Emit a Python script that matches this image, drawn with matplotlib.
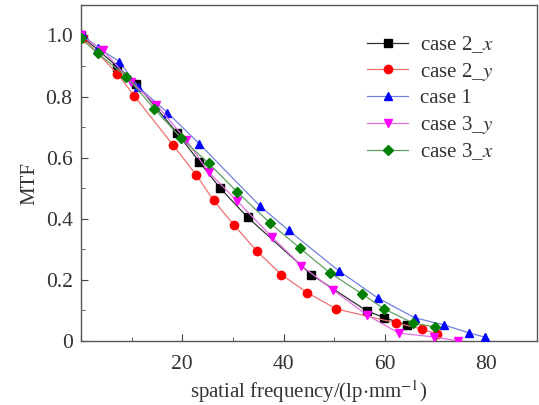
import matplotlib
matplotlib.use("Agg")
import matplotlib.pyplot as plt
from matplotlib.ticker import MultipleLocator, FuncFormatter

plt.rcParams["font.family"] = ["Liberation Serif", "DejaVu Serif"]
plt.rcParams["mathtext.fontset"] = "stix"

# ── data ─────────────────────────────────────────────────────────────────────
case2x_f = [0, 7.2, 10.9, 19.0, 23.4, 27.5, 32.9, 45.5, 56.4, 59.9, 64.3]
case2x_m = [1.0, 0.898, 0.842, 0.681, 0.586, 0.50, 0.405, 0.217, 0.099, 0.076, 0.053]

case2y_f = [0.5, 7.2, 10.5, 18.2, 22.8, 26.2, 30.3, 34.8, 39.6, 44.7, 50.4, 62.3, 67.4, 70.2]
case2y_m = [0.99, 0.875, 0.803, 0.641, 0.543, 0.46, 0.378, 0.293, 0.217, 0.158, 0.105, 0.059, 0.039, 0.023]

case1_f = [0.5, 3.4, 7.6, 11.3, 17.1, 23.4, 35.4, 41.0, 50.9, 58.6, 65.9, 71.6, 76.7, 79.7]
case1_m = [1.0, 0.96, 0.914, 0.832, 0.747, 0.645, 0.441, 0.362, 0.23, 0.141, 0.076, 0.053, 0.026, 0.013]

case3y_f = [0, 4.4, 9.9, 14.9, 20.8, 25.2, 30.9, 37.8, 43.5, 49.7, 56.4, 62.7, 69.8, 74.4]
case3y_m = [1.0, 0.951, 0.849, 0.773, 0.658, 0.553, 0.457, 0.339, 0.247, 0.168, 0.086, 0.026, 0.013, 0.0]

case3x_f = [0, 3.4, 9.0, 14.5, 19.8, 25.2, 30.9, 37.4, 43.3, 49.1, 55.4, 59.9, 65.5, 69.9]
case3x_m = [0.99, 0.941, 0.865, 0.76, 0.664, 0.582, 0.487, 0.385, 0.303, 0.224, 0.155, 0.105, 0.059, 0.046]

fig = plt.figure(figsize=(5.39, 4.05), dpi=100)
ax = fig.add_axes([0.150, 0.158, 0.846, 0.830])

series = [
    (case2x_f, case2x_m, "case 2_$x$", "s", "black", "#333333", 0),
    (case2y_f, case2y_m, "case 2_$y$", "o", "red", "#f07070", 1),
    (case1_f, case1_m, "case 1", "^", "blue", "#7080e0", 2),
    (case3y_f, case3y_m, "case 3_$y$", "v", "magenta", "#e070e0", 3),
    (case3x_f, case3x_m, "case 3_$x$", "D", "green", "#60a060", 4),
]
for f, m, lab, mk, mc, lc, z in series:
    ms = 5 if mk == "D" else 6
    ax.plot(f, m, color=lc, lw=0.9, marker=mk, ms=ms, mfc=mc, mec=mc,
            label=lab, zorder=3 + z)

ax.set_xlim(0, 90)
ax.set_ylim(0, 1.1)
ax.xaxis.set_major_locator(MultipleLocator(20))
ax.xaxis.set_minor_locator(MultipleLocator(10))
ax.yaxis.set_major_locator(MultipleLocator(0.2))
ax.yaxis.set_minor_locator(MultipleLocator(0.1))
ax.xaxis.set_major_formatter(FuncFormatter(lambda v, p: "" if v == 0 else f"{v:.0f}"))
ax.yaxis.set_major_formatter(FuncFormatter(lambda v, p: "0" if v == 0 else f"{v:.1f}"))
ax.tick_params(which="both", direction="in", top=False, right=False,
               labelsize=15.5, colors="#444444", labelcolor="#333333")
ax.tick_params(which="major", length=5)
ax.tick_params(axis="y", which="major", pad=6)
ax.tick_params(axis="x", which="major", pad=10)
ax.tick_params(which="minor", length=3)
for s in ax.spines.values():
    s.set_color("#555555")
    s.set_linewidth(1.0)

ax.set_xlabel("spatial frequency/(lp$\\cdot$mm$^{-1}$)", fontsize=15, color="#333333", labelpad=3)
ax.set_ylabel("MTF", fontsize=15, color="#333333")
ax.yaxis.set_label_coords(-0.09, 0.47)

leg = ax.legend(loc="upper left", frameon=False, fontsize=15, handlelength=2.0,
                handletextpad=0.55, labelspacing=0.28, bbox_to_anchor=(0.586, 0.969))
for t in leg.get_texts():
    t.set_color("#333333")

fig.savefig("out.png", dpi=100)
